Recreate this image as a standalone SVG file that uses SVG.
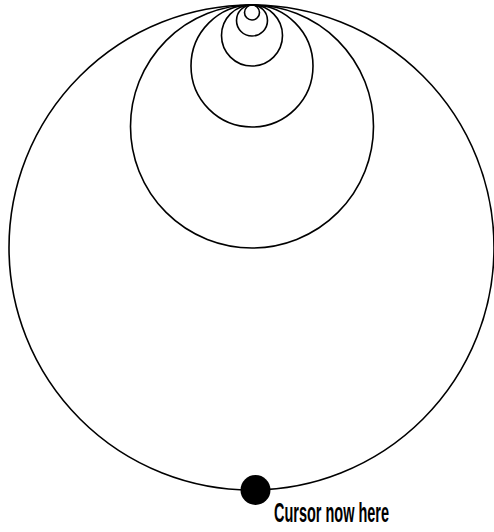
<svg xmlns="http://www.w3.org/2000/svg" width="494" height="532" viewBox="0 0 494 532">
<style>
.c{fill:none;stroke:#000;stroke-width:1.6}
.t{font-family:"Liberation Sans Narrow","Liberation Sans",Arial,sans-serif;font-weight:bold;font-size:27px;fill:#000}
</style>
<rect width="494" height="532" fill="#fff"/>
<g id="circles">
<circle id="c1" class="c" cx="251.5" cy="247.5" r="242.5"/>
<circle id="c2" class="c" cx="252" cy="126.5" r="121.5"/>
<circle id="c3" class="c" cx="252" cy="66" r="61"/>
<circle id="c4" class="c" cx="252" cy="35.5" r="30.5"/>
<circle id="c5" class="c" cx="252" cy="20.5" r="15.5"/>
<circle id="c6" class="c" cx="252" cy="12.5" r="7.5"/>
</g>
<g id="cursor">
<circle cx="255.5" cy="490" r="15" fill="#000"/>
<text class="t" x="274" y="522" textLength="115" lengthAdjust="spacingAndGlyphs">Cursor now here</text>
</g>
</svg>
